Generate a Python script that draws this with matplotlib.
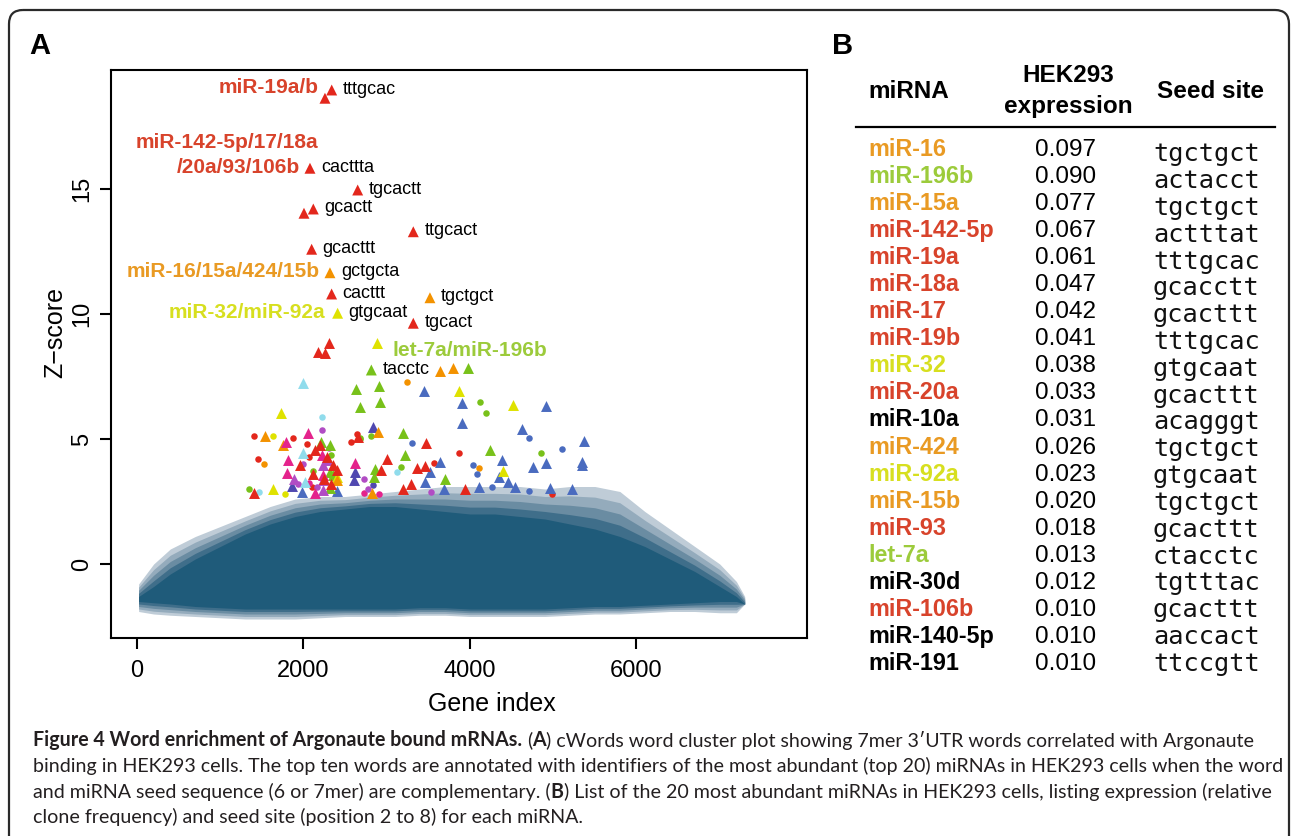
import matplotlib
matplotlib.use("Agg")
import matplotlib.pyplot as plt
from matplotlib.patches import FancyBboxPatch

# ---------------- DATA ----------------
# background cloud of all genes (envelopes)
cloud_x = [20, 200, 400, 700, 1000, 1300, 1600, 1900, 2200, 2500, 2800, 3100, 3400, 3700, 4000,
           4300, 4600, 4900, 5200, 5500, 5800, 6100, 6400, 6700, 7000, 7200, 7300]
cloud_outer_hi = [-0.8, 0.0, 0.6, 1.1, 1.5, 1.9, 2.3, 2.6, 2.7, 2.7, 2.8, 2.9, 3.0, 3.1, 3.1,
                  3.1, 3.1, 3.0, 3.1, 3.1, 2.9, 2.1, 1.4, 0.7, 0.0, -0.7, -1.3]
cloud_outer_lo = [-1.9, -2.0, -2.05, -2.1, -2.15, -2.2, -2.2, -2.2, -2.15, -2.1, -2.1, -2.1, -2.05, -2.05, -2.1,
                  -2.1, -2.1, -2.1, -2.05, -2.0, -2.0, -1.95, -1.9, -1.9, -1.95, -1.95, -1.6]
cloud_core_hi = [-1.3, -0.9, -0.4, 0.2, 0.7, 1.2, 1.6, 1.9, 2.1, 2.2, 2.3, 2.3, 2.2, 2.1, 2.0,
                 2.0, 1.9, 1.8, 1.6, 1.4, 1.1, 0.7, 0.2, -0.3, -0.9, -1.3, -1.6]
cloud_core_lo = [-1.5, -1.55, -1.6, -1.7, -1.75, -1.8, -1.8, -1.8, -1.8, -1.8, -1.8, -1.8, -1.75, -1.75, -1.8,
                 -1.8, -1.8, -1.8, -1.75, -1.7, -1.7, -1.65, -1.6, -1.55, -1.5, -1.5, -1.6]

# labelled top words (triangles)
word_x = [2339, 2258, 2078, 2651, 2006, 2118, 3319, 2098, 2318, 2338, 3519, 2410, 3319, 2815]
word_y = [18.96, 18.63, 15.83, 14.96, 14.03, 14.20, 13.29, 12.59, 11.65, 10.80, 10.65, 10.03, 9.63, 7.76]
word_text = ["tttgcac", "", "cacttta", "tgcactt", "", "gcactt", "ttgcact", "gcacttt",
             "gctgcta", "cacttt", "tgctgct", "gtgcaat", "tgcact", "tacctc"]
word_group = ["red", "red", "red", "red", "red", "red", "red", "red",
              "orange", "red", "orange", "yellow", "red", "green"]

# miRNA group annotations (text, colour group, index of anchoring word)
group_labels = ["miR-19a/b", "miR-142-5p/17/18a", "/20a/93/106b", "miR-16/15a/424/15b",
                "miR-32/miR-92a", "let-7a/miR-196b"]
group_label_colors = ["red", "red", "red", "orange", "yellow", "green"]
group_label_anchor = [1, 2, 2, 8, 11, 13]

# other coloured words
red_tri_x = [2306, 2173, 2263, 3470, 2655, 3000, 3365, 3459, 3290, 3192, 3942, 2933, 2138, 1958,
             2358, 2398, 2118, 1405, 2200, 2280, 2330, 2250]
red_tri_y = [8.86, 8.49, 8.43, 4.85, 5.09, 4.21, 3.83, 3.93, 3.22, 3.02, 2.99, 3.78, 4.56, 3.96,
             3.96, 3.76, 3.59, 2.83, 4.75, 4.30, 3.20, 3.40]
red_dot_x = [2574, 3873, 3567, 4983, 1405, 1878, 2046, 1457, 2066, 2102, 2640]
red_dot_y = [4.89, 4.43, 4.05, 2.80, 5.12, 5.03, 4.79, 4.20, 4.29, 3.09, 5.22]
orange_tri_x = [3642, 3792, 2891, 2826, 1538, 1750, 2398]
orange_tri_y = [7.73, 7.85, 5.29, 2.84, 5.12, 4.76, 3.36]
orange_dot_x = [3240, 1529, 4103]
orange_dot_y = [7.30, 4.00, 3.83]
yellow_tri_x = [2880, 3873, 4521, 1730, 4393, 1637, 2406]
yellow_tri_y = [8.86, 6.93, 6.36, 6.04, 3.73, 2.99, 3.49]
yellow_dot_x = [1630, 1778]
yellow_dot_y = [5.12, 2.80]
green_tri_x = [3980, 2625, 2909, 2680, 2916, 3200, 4237, 3218, 3701, 2850, 2206, 2318, 2318, 2350, 2318, 2863]
green_tri_y = [7.85, 6.99, 7.12, 6.28, 6.50, 5.23, 4.56, 4.38, 3.39, 3.49, 4.89, 4.76, 3.69, 3.56, 3.03, 3.79]
green_dot_x = [4125, 4195, 2676, 2816, 4848, 3167, 2110, 1345, 2326, 2679]
green_dot_y = [6.49, 6.03, 5.03, 5.12, 4.45, 3.88, 3.73, 3.00, 4.36, 4.99]
blue_tri_x = [3449, 3904, 3904, 4918, 4623, 5374, 3642, 4382, 4918, 5347, 5347, 3518, 4757, 4345,
              4462, 4543, 4961, 5229, 4103, 3685, 3455, 1978, 2398]
blue_tri_y = [6.93, 6.43, 5.65, 6.32, 5.39, 4.92, 4.09, 4.16, 4.03, 4.09, 3.96, 3.69, 3.89, 3.47,
              3.29, 3.09, 3.03, 3.00, 3.09, 2.99, 3.29, 2.87, 2.92]
blue_dot_x = [4709, 3309, 5105, 4034, 4087, 4264, 4703]
blue_dot_y = [5.03, 4.85, 4.59, 3.96, 3.60, 3.07, 2.93]
indigo_tri_x = [2835, 2623, 2602, 1858]
indigo_tri_y = [5.49, 3.69, 3.36, 3.12]
indigo_dot_x = [2837]
indigo_dot_y = [3.16]
magenta_tri_x = [2623, 1786, 2058, 2218, 1810, 1798, 2238, 2138]
magenta_tri_y = [4.05, 4.89, 5.23, 4.36, 4.16, 3.63, 3.56, 2.85]
magenta_dot_x = [2907, 2070, 2727]
magenta_dot_y = [2.80, 3.25, 2.83]
purple_tri_x = [2230, 2298, 1890, 2230, 2238]
purple_tri_y = [3.96, 4.16, 3.40, 3.36, 2.96]
purple_dot_x = [3535, 2774, 2218, 2302, 1990, 1934, 2158, 2731]
purple_dot_y = [2.87, 3.00, 5.36, 4.63, 3.99, 3.19, 3.09, 3.39]
cyan_tri_x = [1993, 1998, 2018]
cyan_tri_y = [7.23, 4.45, 3.29]
cyan_dot_x = [2221, 3122, 1469]
cyan_dot_y = [5.87, 3.69, 2.87]

x_ticks = [0, 2000, 4000, 6000]
y_ticks = [0, 5, 10, 15]

# table (panel B)
mirna_names = ["miR-16", "miR-196b", "miR-15a", "miR-142-5p", "miR-19a", "miR-18a", "miR-17",
               "miR-19b", "miR-32", "miR-20a", "miR-10a", "miR-424", "miR-92a", "miR-15b",
               "miR-93", "let-7a", "miR-30d", "miR-106b", "miR-140-5p", "miR-191"]
mirna_expression = ["0.097", "0.090", "0.077", "0.067", "0.061", "0.047", "0.042", "0.041",
                    "0.038", "0.033", "0.031", "0.026", "0.023", "0.020", "0.018", "0.013",
                    "0.012", "0.010", "0.010", "0.010"]
mirna_seed = ["tgctgct", "actacct", "tgctgct", "actttat", "tttgcac", "gcacctt", "gcacttt",
              "tttgcac", "gtgcaat", "gcacttt", "acagggt", "tgctgct", "gtgcaat", "tgctgct",
              "gcacttt", "ctacctc", "tgtttac", "gcacttt", "aaccact", "ttccgtt"]
mirna_group = ["orange", "green", "orange", "red", "red", "red", "red", "red", "yellow", "red",
               "black", "orange", "yellow", "orange", "red", "green", "black", "red", "black", "black"]

caption_lines = [
    [("Figure 4 Word enrichment of Argonaute bound mRNAs.", "bold"), (" (", "normal"), ("A", "bold"),
     (") cWords word cluster plot showing 7mer 3\u2032UTR words correlated with Argonaute", "normal")],
    [("binding in HEK293 cells. The top ten words are annotated with identifiers of the most abundant "
      "(top 20) miRNAs in HEK293 cells when the word", "normal")],
    [("and miRNA seed sequence (6 or 7mer) are complementary. (", "normal"), ("B", "bold"),
     (") List of the 20 most abundant miRNAs in HEK293 cells, listing expression (relative", "normal")],
    [("clone frequency) and seed site (position 2 to 8) for each miRNA.", "normal")],
]

# ---------------- STYLE ----------------
MARK = {"red": "#e3271c", "orange": "#f39200", "yellow": "#dfe200", "green": "#78c11a",
        "blue": "#4a6bbf", "indigo": "#5048b0", "magenta": "#e4238c", "purple": "#b14cc4",
        "cyan": "#90dcec"}
TEXTC = {"red": "#d8432b", "orange": "#e99a23", "yellow": "#d7df1f", "green": "#9ccb3b",
         "black": "#000000"}
SANS = "Liberation Sans"
TRI_S = 62
DOT_S = 22

W, H = 1292, 836
fig = plt.figure(figsize=(W / 100, H / 100), dpi=100)

canvas = fig.add_axes([0, 0, 1, 1], zorder=0)
canvas.set_xlim(0, W)
canvas.set_ylim(H, 0)
canvas.axis("off")

frame = FancyBboxPatch((9, 10), 1280, 900, boxstyle="round,pad=0,rounding_size=14",
                       fc="none", ec="#2a2a2a", lw=1.6)
canvas.add_patch(frame)

canvas.text(29, 54, "A", family=SANS, weight="bold", fontsize=21, va="baseline", ha="left")
canvas.text(832, 54, "B", family=SANS, weight="bold", fontsize=21, va="baseline", ha="left")

# ---------------- PANEL A ----------------
ax = fig.add_axes([111 / W, 1 - 638 / H, 696 / W, 568 / H], zorder=1)
ax.set_facecolor("none")
ax.set_xlim(-312, 8048)
ax.set_ylim(-2.96, 19.76)

# density layers of the gene cloud, from sparse fringe to dense core
layer_colors = ["#bfccd7", "#94abbc", "#6a8ca2", "#3f6e8a", "#1f5b7a"]
nl = len(layer_colors)
for k, col in enumerate(layer_colors):
    f = k / (nl - 1)
    hi = [a + (b - a) * f for a, b in zip(cloud_outer_hi, cloud_core_hi)]
    lo = [a + (b - a) * f for a, b in zip(cloud_outer_lo, cloud_core_lo)]
    ax.fill_between(cloud_x, lo, hi, color=col, lw=0, zorder=1 + k * 0.1)

series = [
    (red_dot_x, red_dot_y, "red", "o"), (orange_dot_x, orange_dot_y, "orange", "o"),
    (yellow_dot_x, yellow_dot_y, "yellow", "o"), (green_dot_x, green_dot_y, "green", "o"),
    (blue_dot_x, blue_dot_y, "blue", "o"), (indigo_dot_x, indigo_dot_y, "indigo", "o"),
    (magenta_dot_x, magenta_dot_y, "magenta", "o"), (purple_dot_x, purple_dot_y, "purple", "o"),
    (cyan_dot_x, cyan_dot_y, "cyan", "o"),
    (blue_tri_x, blue_tri_y, "blue", "^"), (indigo_tri_x, indigo_tri_y, "indigo", "^"),
    (cyan_tri_x, cyan_tri_y, "cyan", "^"), (green_tri_x, green_tri_y, "green", "^"),
    (yellow_tri_x, yellow_tri_y, "yellow", "^"), (orange_tri_x, orange_tri_y, "orange", "^"),
    (purple_tri_x, purple_tri_y, "purple", "^"), (magenta_tri_x, magenta_tri_y, "magenta", "^"),
    (red_tri_x, red_tri_y, "red", "^"),
]
for xs, ys, c, m in series:
    ax.scatter(xs, ys, s=TRI_S if m == "^" else DOT_S, marker=m, color=MARK[c], lw=0, zorder=5)

ax.scatter(word_x, word_y, s=TRI_S, marker="^", color=[MARK[g] for g in word_group], lw=0, zorder=6)
for x, y, t in zip(word_x, word_y, word_text):
    if t:
        ax.annotate(t, (x, y), xytext=(11, 1), textcoords="offset pixels", ha="left", va="center",
                    family=SANS, fontsize=13, color="black", zorder=7)

label_offsets = [(-6, 11), (8, 26), (-10, 1), (-10, 1), (-12, 1), (21, 20)]
label_ha = ["right", "right", "right", "right", "right", "left"]
for t, c, i, off, ha in zip(group_labels, group_label_colors, group_label_anchor, label_offsets, label_ha):
    ax.annotate(t, (word_x[i], word_y[i]), xytext=off, textcoords="offset pixels", ha=ha,
                va="center", family=SANS, weight="bold", fontsize=15, color=TEXTC[c], zorder=7)

ax.set_xticks(x_ticks)
ax.set_yticks(y_ticks)
ax.set_xticklabels([str(v) for v in x_ticks], family=SANS, fontsize=17)
ax.set_yticklabels([str(v) for v in y_ticks], family=SANS, fontsize=17, rotation=90, va="center")
ax.tick_params(direction="out", length=8, width=1.5, color="black")
ax.tick_params(axis="x", pad=8)
ax.tick_params(axis="y", pad=5)
for sp in ax.spines.values():
    sp.set_linewidth(1.5)
    sp.set_color("black")
ax.set_xlabel("Gene index", family=SANS, fontsize=18)
ax.set_ylabel("Z\u2212score", family=SANS, fontsize=18)
ax.xaxis.set_label_coords((492 - 111) / 696, (638 - 692) / 568)
ax.yaxis.set_label_coords((67 - 111) / 696, (638 - 333) / 568)

# ---------------- PANEL B ----------------
canvas.text(868, 98, "miRNA", family=SANS, weight="bold", fontsize=17.5, va="baseline", ha="left")
canvas.text(1068, 82, "HEK293", family=SANS, weight="bold", fontsize=17.5, va="baseline", ha="center")
canvas.text(1068, 113, "expression", family=SANS, weight="bold", fontsize=17.5, va="baseline", ha="center")
canvas.text(1157, 98, "Seed site", family=SANS, weight="bold", fontsize=17.5, va="baseline", ha="left")
canvas.plot([856, 1275], [127, 127], color="black", lw=1.6)

for i, (n, e, s, g) in enumerate(zip(mirna_names, mirna_expression, mirna_seed, mirna_group)):
    yb = 155.5 + i * 27.1
    canvas.text(868, yb, n, family=SANS, weight="bold", fontsize=16.8, color=TEXTC[g], va="baseline")
    canvas.text(1035, yb, e, family=SANS, fontsize=17.5, color="black", va="baseline")
    canvas.text(1153, 161.5 + i * 26.8, s, family="DejaVu Sans Mono", fontsize=18.3, color="#111111",
                va="baseline")

# ---------------- CAPTION ----------------
renderer = fig.canvas.get_renderer()
CAPF = "Lato"
CAPC = "#231f20"


def text_width(s, size, weight):
    t = canvas.text(0, 0, s, family=CAPF, fontsize=size, weight=weight)
    w = t.get_window_extent(renderer).width
    t.remove()
    return w


def runs_width(runs, size):
    total = 0.0
    for s, wgt in runs:
        sp = text_width("x x", size, wgt) - text_width("xx", size, wgt)
        core = s.strip(" ")
        nsp = len(s) - len(core)
        total += (text_width(core, size, wgt) if core else 0) + nsp * sp
    return total


size = 13.0
target = 1281 - 33
size = size * target / runs_width(caption_lines[1], size)

baselines = [746.5, 772.3, 797.9, 823.5]
for runs, yb in zip(caption_lines, baselines):
    x = 33
    for s, wgt in runs:
        sp = text_width("x x", size, wgt) - text_width("xx", size, wgt)
        lead = len(s) - len(s.lstrip(" "))
        trail = len(s) - len(s.rstrip(" "))
        core = s.strip(" ")
        x += lead * sp
        t = canvas.text(x, yb, core, family=CAPF, fontsize=size, weight=wgt, color=CAPC,
                        va="baseline", ha="left")
        x += t.get_window_extent(renderer).width + trail * sp

fig.savefig("out.png", dpi=100)
